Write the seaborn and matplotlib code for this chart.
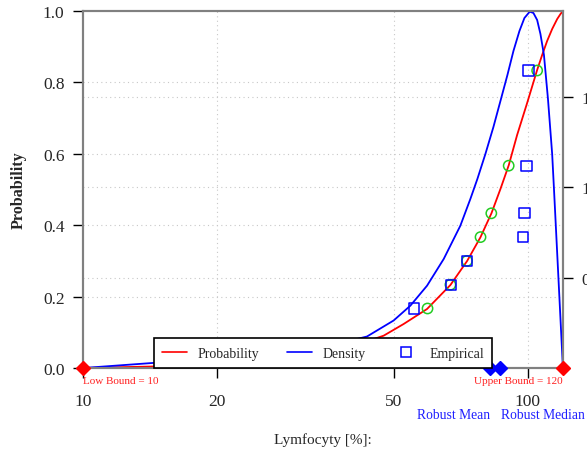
import numpy as np
import pandas as pd
import matplotlib
matplotlib.use("Agg")
import matplotlib.pyplot as plt
import matplotlib.transforms as mtransforms
from matplotlib.lines import Line2D
import seaborn as sns

# ---- data ----
prob_x = [10.0, 14.28, 19.92, 30.76, 39.87, 47.39, 52.56, 59.35, 66.99, 73.04, 78.26, 82.85,
          86.81, 90.62, 94.65, 99.69, 104.99, 107.76, 110.57, 113.5, 116.5, 118.5, 120.0]
prob_y = [0.0, 0.0042, 0.011, 0.0336, 0.0588, 0.0905, 0.1232, 0.1653, 0.2325, 0.2997, 0.3661,
          0.4333, 0.5014, 0.5678, 0.6527, 0.7423, 0.8347, 0.8768, 0.9160, 0.9496, 0.9776,
          0.9916, 1.0]

dens_x = [10.0, 14.28, 19.92, 30.76, 37.85, 43.48, 49.92, 54.43, 59.35, 64.70, 70.53, 74.28,
          77.03, 80.30, 83.71, 86.81, 90.01, 92.86, 95.79, 98.30, 101.04, 102.98, 104.99,
          106.80, 108.76, 111.05, 113.49, 114.56, 120.0]
dens_y = [0.0, 0.0277, 0.0499, 0.0900, 0.1380, 0.1745, 0.2632, 0.3452, 0.4560, 0.6039, 0.7884,
          0.9363, 1.0471, 1.1856, 1.3352, 1.4792, 1.6233, 1.7562, 1.8670, 1.9391, 1.9740,
          1.9668, 1.9280, 1.8504, 1.7341, 1.4903, 1.1856, 0.9917, 0.0]

emp_x = [55.5, 67.1, 73.1, 97.4, 98.3, 99.3, 100.4]
emp_p = [0.1667, 0.2333, 0.3000, 0.3667, 0.4333, 0.5667, 0.8333]

fit_x = [59.5, 67.0, 73.0, 78.3, 82.8, 90.6, 105.0]
fit_p = [0.1667, 0.2333, 0.3000, 0.3667, 0.4333, 0.5667, 0.8333]

low_bound, upper_bound = 10, 120
robust_mean, robust_median = 82.4, 86.8

x_ticks = [10, 20, 50, 100]
y_ticks = [0.0, 0.2, 0.4, 0.6, 0.8, 1.0]
dens_ticks = [0.5, 1.0, 1.5]

# ---- styling ----
sns.set_theme(style="white")
plt.rcParams["font.family"] = ["Liberation Serif", "DejaVu Serif"]

fig = plt.figure(figsize=(5.87, 4.52), dpi=100)
ax = fig.add_axes([0.1419, 0.1836, 0.8171, 0.7899])
ax2 = ax.twinx()

RED = "#ff0000"
BLUE = "#0000ff"
GREEN = "#22cc22"
GRAY = "#808080"

ax.set_xscale("log")
ax.set_xlim(low_bound, upper_bound)
ax.set_ylim(0, 1)
ax2.set_ylim(0, 357 / 180.5)

# grid
for xv in x_ticks[1:]:
    ax.axvline(xv, color="#c8c8c8", lw=0.8, ls=(0, (1, 3)), zorder=0)
for yv in y_ticks[1:-1]:
    ax.axhline(yv, color="#c8c8c8", lw=0.8, ls=(0, (1, 3)), zorder=0)
for dv in dens_ticks:
    ax2.axhline(dv, color="#c8c8c8", lw=0.8, ls=(0, (1, 3)), zorder=0)

# curves
sns.lineplot(x=prob_x, y=prob_y, ax=ax2, color=RED, lw=1.3, sort=False, estimator=None,
             transform=ax.transData)
sns.lineplot(x=dens_x, y=dens_y, ax=ax2, color=BLUE, lw=1.3, sort=False, estimator=None)
sns.scatterplot(x=fit_x, y=fit_p, ax=ax2, marker="o", s=55, facecolor="none",
                edgecolor=GREEN, linewidth=1.1, transform=ax.transData, zorder=4)
sns.scatterplot(x=emp_x, y=emp_p, ax=ax2, marker="s", s=55, facecolor="none",
                edgecolor=BLUE, linewidth=1.1, transform=ax.transData, zorder=5)

# bound / robust markers
ax2.plot([low_bound, upper_bound], [0, 0], ls="none", marker="D", ms=7, color=RED,
         clip_on=False, zorder=6, transform=ax.transData)
ax2.plot([robust_mean, robust_median], [0, 0], ls="none", marker="D", ms=7, color=BLUE,
         clip_on=False, zorder=6, transform=ax.transData)

btr = mtransforms.blended_transform_factory(ax.transData, ax.transAxes)
ax.text(low_bound, -0.036, f"Low Bound = {low_bound}", color="#ff2020", fontsize=8,
        ha="left", va="center", transform=btr)
ax.text(upper_bound, -0.036, f"Upper Bound = {upper_bound}", color="#ff2020", fontsize=8,
        ha="right", va="center", transform=btr)
ax.text(robust_mean, -0.129, "Robust Mean", color="#2020ff", fontsize=9.8,
        ha="right", va="center", transform=btr)
ax.text(robust_median + 0.4, -0.129, "Robust Median", color="#2020ff", fontsize=9.8,
        ha="left", va="center", transform=btr)

# ticks
ax.set_xticks(x_ticks)
ax.set_xticklabels([str(v) for v in x_ticks])
ax.xaxis.set_minor_locator(matplotlib.ticker.NullLocator())
ax.set_yticks(y_ticks)
ax.set_yticklabels([f"{v:.1f}" for v in y_ticks])
ax.tick_params(axis="x", length=7, width=1, color="black", pad=11, labelsize=12.5, direction="out",
               bottom=True)
ax.tick_params(axis="y", length=7, width=1, color="black", pad=6.5, labelsize=12.5, direction="out",
               left=True)
ax2.set_yticks(dens_ticks)
ax2.set_yticklabels([f"{v:.1f}" for v in dens_ticks])
ax2.tick_params(axis="y", length=7, width=1, color="black", pad=6.5, labelsize=12.5, direction="out",
                right=True)
ax2.set_ylabel("")

for a in (ax, ax2):
    for s in a.spines.values():
        s.set_color(GRAY)
        s.set_linewidth(1.5)

ax.set_ylabel("Probability", fontsize=11.5, fontweight="bold", labelpad=11.5)
ax.set_xlabel("Lymfocyty [%]:", fontsize=11, labelpad=17)

handles = [Line2D([], [], color=RED, lw=1.2),
           Line2D([], [], color=BLUE, lw=1.2),
           Line2D([], [], ls="none", marker="s", mfc="none", mec=BLUE, ms=7, mew=1.1)]
leg = ax2.legend(handles, ["Probability", "Density", "Empirical"], loc="lower center",
                 ncol=3, frameon=True, fancybox=False, borderaxespad=0, fontsize=10,
                 columnspacing=2.0, handlelength=1.75, borderpad=0.6)
leg.get_frame().set_edgecolor("black")
leg.get_frame().set_linewidth(1.2)
leg.get_frame().set_alpha(1)
leg.set_zorder(10)

fig.savefig("out.png", dpi=100)
